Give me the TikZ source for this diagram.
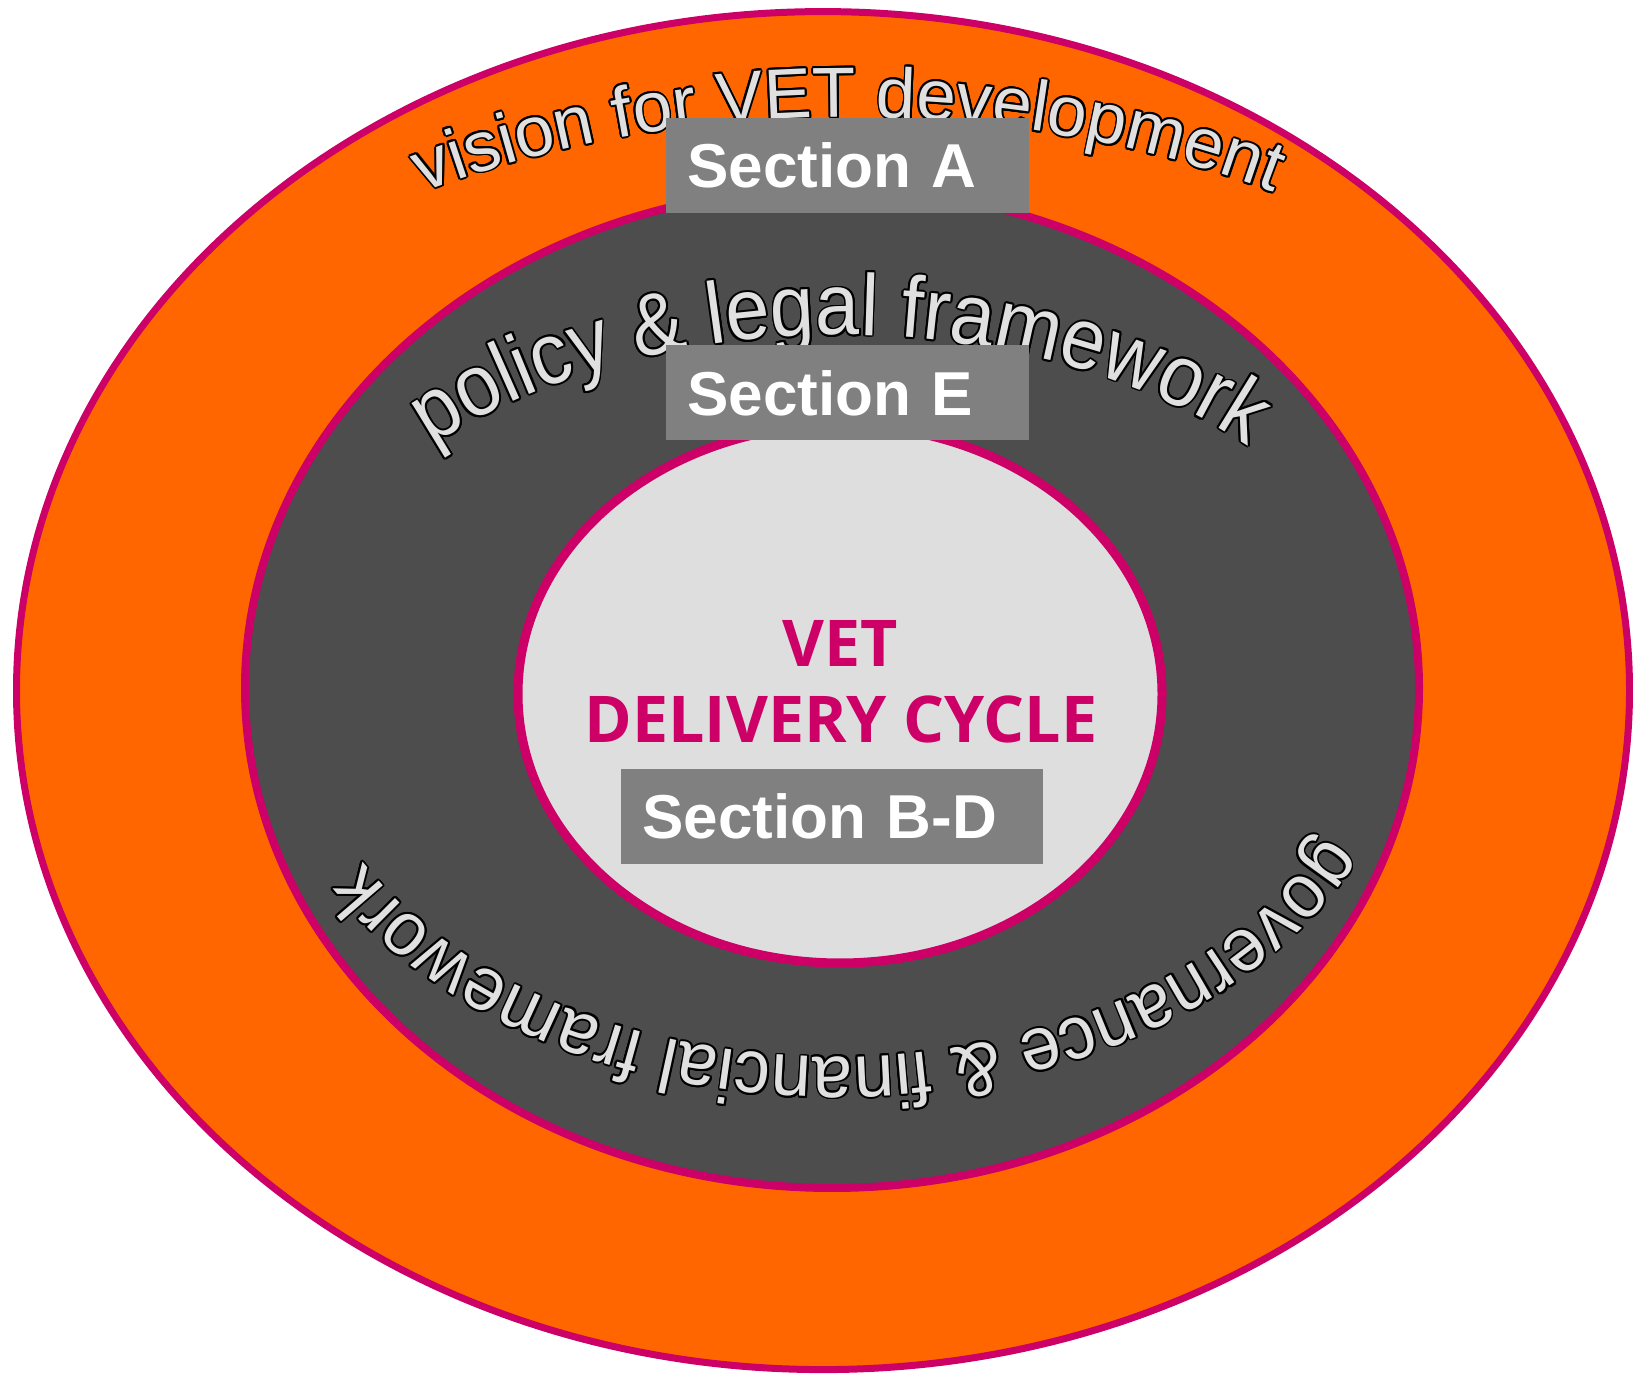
\documentclass[tikz,border=0pt]{standalone}
\usepackage{fontspec}
\usetikzlibrary{decorations.text,calc}
\newfontfamily\arialf{Liberation Sans}
\newfontfamily\arialpol{Liberation Sans}[FakeStretch=0.91]
\newfontfamily\arialgov{Liberation Sans}[FakeStretch=0.95]
\newfontfamily\osf{Open Sans}
\definecolor{orng}{HTML}{FF6600}
\definecolor{mag}{HTML}{CC0066}
\definecolor{dgray}{HTML}{4D4D4D}
\definecolor{lgray}{HTML}{DEDEDE}
\definecolor{boxgray}{HTML}{808080}
\definecolor{tfill}{HTML}{E0E0E0}
\newcommand\outlinedarc[4]{%
  \foreach \oa in {0,22.5,...,337.5}{%
    \path[shift={(\oa:1.9pt)}, decorate, decoration={text along path, text align=center, text color=black, text={|#3|#4}}] #1 arc[#2];%
  }%
  \path[decorate, decoration={text along path, text align=center, text color=tfill, text={|#3|#4}}] #1 arc[#2];%
}
\tikzset{
  ring/.style={draw=mag},
  secbox/.style={fill=boxgray, draw=none, minimum height=95pt, inner xsep=21pt, inner ysep=0pt,
    anchor=west, align=left, text=white, font=\arialf\bfseries\fontsize{62}{70}\selectfont},
  core/.style={text=mag, anchor=base, font=\osf\bfseries\fontsize{64.5}{76}\selectfont, inner sep=0pt}
}
\begin{document}
\begin{tikzpicture}[x=1pt,y=1pt]
\useasboundingbox (0,0) rectangle (1633,1376);
\fill[white] (0,0) rectangle (1633,1376);
% rings
\draw[ring, fill=orng, line width=7pt] (823,685.4) ellipse[x radius=806.5pt, y radius=679pt];
\draw[ring, fill=dgray, line width=8pt] (832,688) ellipse[x radius=587pt, y radius=500pt];
\draw[ring, fill=lgray, line width=9pt] (840,682) ellipse[x radius=322pt, y radius=269pt];
% curved texts
\outlinedarc{($(848,681)+(135:860pt and 578pt)$)}{start angle=135, end angle=45, x radius=860pt, y radius=578pt}{\arialf\fontsize{71}{80}\selectfont}{vision for VET development}
\outlinedarc{($(840,688)+(155:560pt and 353pt)$)}{start angle=155, end angle=25, x radius=560pt, y radius=353pt}{\arialpol\fontsize{87}{96}\selectfont}{policy {\&} legal framework}
\outlinedarc{($(835,688)+(-1:535pt and 369pt)$)}{start angle=-1, end angle=-174, x radius=535pt, y radius=369pt}{\arialgov\fontsize{76}{84}\selectfont}{governance {\&} financial framework}
% centre label
\node[core] (vet) at (840,709.4) {VET};
\node[core] (cycle) at (841,633.4) {DELIVERY CYCLE};
% section boxes
\node[secbox, text width=321pt] (secA) at (666,1210.5) {Section A};
\node[secbox, text width=321pt] (secE) at (666,983) {Section E};
\node[secbox, text width=380pt] (secBD) at (621,559.5) {Section B-D};
\end{tikzpicture}
\end{document}
